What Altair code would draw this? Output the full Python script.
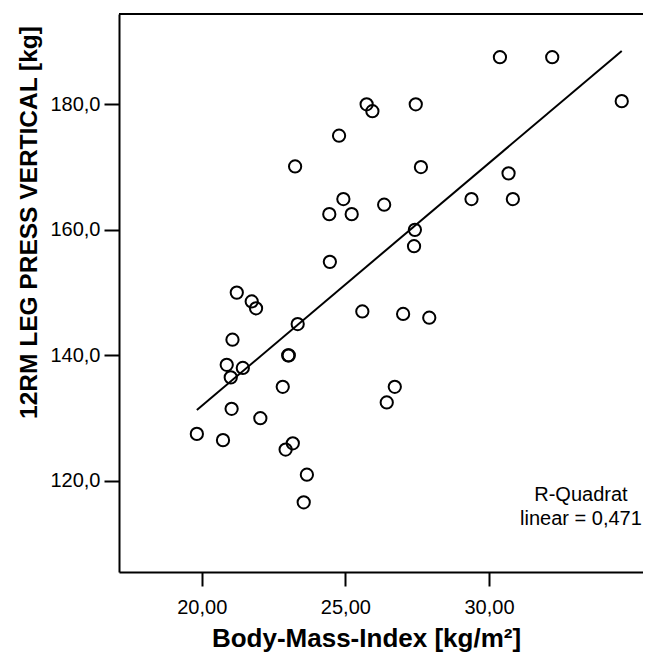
import altair as alt
import pandas as pd

bmi = [25.74, 25.94, 24.78, 23.25, 24.93, 24.44, 25.22, 26.35, 24.46, 21.22,
       21.74, 21.89, 30.38, 32.20, 27.45, 34.62, 27.63, 30.68, 29.39, 30.83,
       27.42, 27.39, 23.34, 25.59, 27.01, 27.92, 21.07, 23.01, 23.03, 20.87,
       21.43, 21.01, 22.82, 26.72, 26.44, 21.04, 22.04, 19.83, 20.74, 23.17,
       22.92, 23.66, 23.55]
legpress = [180.0, 178.9, 175.0, 170.1, 164.9, 162.5, 162.5, 164.0, 154.9, 150.0,
            148.6, 147.5, 187.5, 187.5, 180.0, 180.5, 170.0, 169.0, 164.9, 164.9,
            160.0, 157.4, 145.0, 147.0, 146.6, 146.0, 142.5, 140.0, 140.0, 138.5,
            138.0, 136.5, 135.0, 135.0, 132.5, 131.5, 130.0, 127.5, 126.5, 126.0,
            125.0, 121.0, 116.6]

fit_x = [19.83, 34.62]
fit_y = [131.3, 188.5]

note_lines = ["R-Quadrat", "linear = 0,471"]
note_x = [33.20, 33.20]
note_y = [117.8, 113.9]

x_ticks = [20, 25, 30]
y_ticks = [120, 140, 160, 180]

W, H = 524, 558
FONT = "Liberation Sans"

pts = pd.DataFrame({"bmi": bmi, "kg": legpress})
fit = pd.DataFrame({"bmi": fit_x, "kg": fit_y})
notes = pd.DataFrame({"t": note_lines, "bmi": note_x, "kg": note_y})

xs = alt.Scale(domain=[17.12, 35.36], nice=False, zero=False)
ys = alt.Scale(domain=[105.5, 194.38], nice=False, zero=False)

xax = alt.Axis(values=x_ticks, labelExpr="replace(format(datum.value, '.2f'), '.', ',')",
               title="Body-Mass-Index [kg/m²]", grid=False,
               domainColor="black", domainWidth=2, tickColor="black", tickWidth=2,
               tickSize=14, labelPadding=11, labelFont=FONT, labelFontSize=20,
               labelColor="black", titleFont=FONT, titleFontSize=26,
               titleFontWeight="bold", titleColor="black", titleX=247, titleY=74,
               titleBaseline="alphabetic", titleAlign="center")
yax = alt.Axis(values=y_ticks, labelExpr="replace(format(datum.value, '.1f'), '.', ',')",
               title="12RM LEG PRESS VERTICAL [kg]", grid=False,
               domainColor="black", domainWidth=2, tickColor="black", tickWidth=2,
               tickSize=15, labelPadding=4, labelFont=FONT, labelFontSize=20,
               labelColor="black", titleFont=FONT, titleFontSize=24.5,
               titleFontWeight="bold", titleColor="black", titleX=-83, titleY=208,
               titleBaseline="alphabetic", titleAlign="center", titleAngle=270)

points = alt.Chart(pts).mark_point(shape="circle", filled=False, color="black",
                                   size=150, strokeWidth=2, opacity=1).encode(
    x=alt.X("bmi:Q", scale=xs, axis=xax),
    y=alt.Y("kg:Q", scale=ys, axis=yax),
)

line = alt.Chart(fit).mark_line(color="black", strokeWidth=2).encode(
    x=alt.X("bmi:Q", scale=xs),
    y=alt.Y("kg:Q", scale=ys),
)

text = alt.Chart(notes).mark_text(font=FONT, fontSize=20, color="black",
                                  align="center", baseline="middle").encode(
    x=alt.X("bmi:Q", scale=xs),
    y=alt.Y("kg:Q", scale=ys),
    text="t:N",
)

top = alt.Chart(pd.DataFrame({"a": [0]})).mark_rule(color="black", strokeWidth=2).encode(
    x=alt.value(0), x2=alt.value(W), y=alt.value(0)
)

chart = alt.layer(top, line, points, text).properties(
    width=W, height=H,
    autosize=alt.AutoSizeParams(type="none"),
    padding={"left": 111, "top": 6, "right": 0, "bottom": 80},
).configure_view(stroke=None)

chart.save("out.html", embed_options={"renderer": "svg", "actions": False})
